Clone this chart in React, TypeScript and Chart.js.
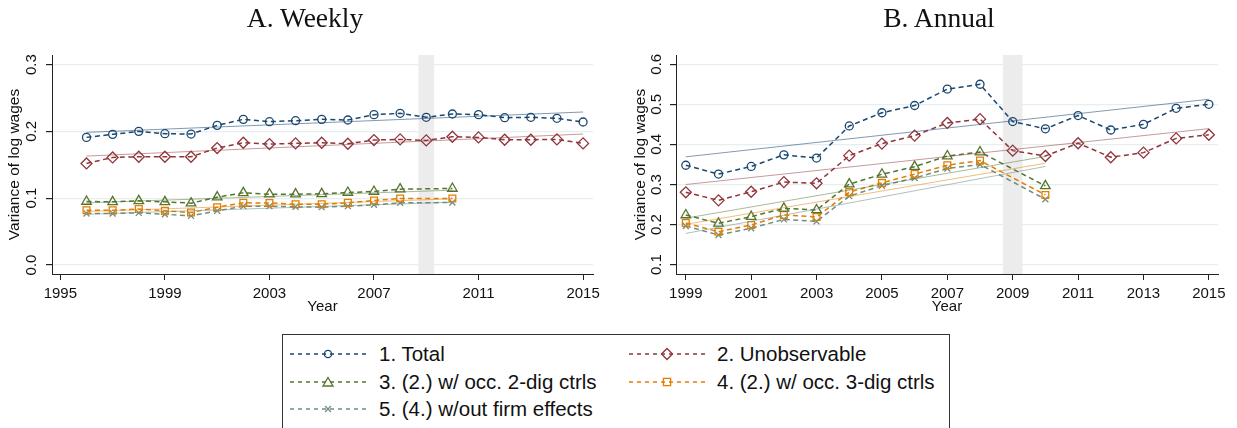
import React, { useEffect, useRef } from "react";
import { Chart, registerables } from "chart.js";

Chart.register(...registerables);

// ---------- data ----------
const weeklyYears = [1996, 1997, 1998, 1999, 2000, 2001, 2002, 2003, 2004, 2005, 2006, 2007, 2008, 2009, 2010, 2011, 2012, 2013, 2014, 2015];
const weeklyTotal = [0.191, 0.1955, 0.2, 0.1965, 0.196, 0.209, 0.218, 0.2145, 0.216, 0.218, 0.217, 0.225, 0.227, 0.221, 0.226, 0.225, 0.2205, 0.221, 0.2195, 0.214];
const weeklyUnobs = [0.152, 0.161, 0.162, 0.162, 0.162, 0.175, 0.183, 0.181, 0.182, 0.183, 0.1815, 0.187, 0.188, 0.1865, 0.192, 0.191, 0.1875, 0.1875, 0.188, 0.182];
const weeklyOcc2 = [0.095, 0.0945, 0.096, 0.0945, 0.0925, 0.1015, 0.108, 0.106, 0.106, 0.1065, 0.1085, 0.11, 0.1135, null, 0.1145, null, null, null, null, null];
const weeklyOcc3 = [0.082, 0.0818, 0.0838, 0.081, 0.0785, 0.0865, 0.093, 0.0928, 0.091, 0.091, 0.093, 0.0965, 0.0995, null, 0.0995, null, null, null, null, null];
const weeklyNoFirm = [0.077, 0.077, 0.078, 0.076, 0.0735, 0.081, 0.088, 0.088, 0.087, 0.0865, 0.088, 0.09, 0.093, null, 0.0935, null, null, null, null, null];

const weeklyTrendYearsLong = [1996, 2015];
const weeklyTrendYearsShort = [1996, 2010];
const weeklyTrendTotal = [0.1985, 0.229];
const weeklyTrendUnobs = [0.163, 0.196];
const weeklyTrendOcc2 = [0.093, 0.112];
const weeklyTrendOcc3 = [0.08, 0.099];
const weeklyTrendNoFirm = [0.076, 0.094];

const annualYears = [1999, 2000, 2001, 2002, 2003, 2004, 2005, 2006, 2007, 2008, 2009, 2010, 2011, 2012, 2013, 2014, 2015];
const annualTotal = [0.348, 0.326, 0.345, 0.374, 0.366, 0.446, 0.479, 0.497, 0.538, 0.55, 0.457, 0.439, 0.472, 0.436, 0.45, 0.49, 0.5];
const annualUnobs = [0.2805, 0.2605, 0.282, 0.306, 0.303, 0.372, 0.402, 0.422, 0.4536, 0.463, 0.3845, 0.371, 0.403, 0.368, 0.3795, 0.415, 0.424];
const annualOcc2 = [0.224, 0.203, 0.22, 0.2405, 0.2365, 0.301, 0.3255, 0.3445, 0.371, 0.381, null, 0.2965, null, null, null, null, null];
const annualOcc3 = [0.204, 0.182, 0.199, 0.224, 0.219, 0.281, 0.304, 0.326, 0.348, 0.3596, null, 0.274, null, null, null, null, null];
const annualNoFirm = [0.1965, 0.174, 0.191, 0.213, 0.208, 0.271, 0.297, 0.316, 0.34, 0.35, null, 0.263, null, null, null, null, null];

const annualTrendYearsLong = [1999, 2015];
const annualTrendYearsShort = [1999, 2010];
const annualTrendTotal = [0.369, 0.5126];
const annualTrendUnobs = [0.3, 0.4394];
const annualTrendOcc2 = [0.216, 0.37];
const annualTrendOcc3 = [0.2008, 0.353];
const annualTrendNoFirm = [0.178, 0.345];

const weeklyXTicks = [1995, 1999, 2003, 2007, 2011, 2015];
const weeklyYTicks = [0, 0.1, 0.2, 0.3];
const annualXTicks = [1999, 2001, 2003, 2005, 2007, 2009, 2011, 2013, 2015];
const annualYTicks = [0.1, 0.2, 0.3, 0.4, 0.5, 0.6];

const recessionBand = [2008.7, 2009.3];

const panelTitles = ["A. Weekly", "B. Annual"];
const seriesLabels = [
  "1. Total",
  "2. Unobservable",
  "3. (2.) w/ occ. 2-dig ctrls",
  "4. (2.) w/ occ. 3-dig ctrls",
  "5. (4.) w/out firm effects",
];

// ---------- styles ----------
const COLORS = ["#1a476f", "#90353b", "#55752f", "#e37e00", "#6e8e84"];
const TREND_COLORS = [
  "rgba(26,71,111,0.55)",
  "rgba(144,53,59,0.5)",
  "rgba(85,117,47,0.5)",
  "rgba(227,126,0,0.5)",
  "rgba(110,142,132,0.55)",
];
const POINT_STYLES = ["circle", "rectRot", "triangle", "rect", "crossRot"];
const POINT_RADII = [4, 5.5, 5.5, 4.8, 4.2];
const SANS = '"Liberation Sans", Arial, Helvetica, sans-serif';
const SERIF = '"Liberation Serif", "Times New Roman", serif';
const INK = "#111111";
const AXIS = "#222222";
const GRID = "#e6eef0";
const BAND = "#ececec";

const toPoints = (xs: number[], ys: (number | null)[]) => xs.map((x, i) => ({ x, y: ys[i] }));

const bandPlugin = {
  id: "band",
  beforeDatasetsDraw(chart: any, _args: any, opts: any) {
    const { ctx, chartArea, scales } = chart;
    const x0 = scales.x.getPixelForValue(opts.from);
    const x1 = scales.x.getPixelForValue(opts.to);
    ctx.save();
    ctx.fillStyle = opts.color;
    ctx.fillRect(x0, chartArea.top, x1 - x0, chartArea.bottom - chartArea.top);
    ctx.restore();
  },
};

function makeConfig(p: any) {
  const datasets: any[] = [];
  p.trends.forEach((t: any, i: number) => {
    datasets.push({
      data: toPoints(t.years, t.values),
      borderColor: TREND_COLORS[i],
      borderWidth: 1,
      pointRadius: 0,
      fill: false,
      tension: 0,
    });
  });
  p.series.forEach((s: (number | null)[], i: number) => {
    datasets.push({
      data: toPoints(p.years, s),
      borderColor: COLORS[i],
      borderWidth: 1.5,
      borderDash: [5, 3.5],
      pointStyle: POINT_STYLES[i],
      pointRadius: POINT_RADII[i],
      pointBorderWidth: 1.3,
      pointBorderColor: COLORS[i],
      pointBackgroundColor: "rgba(0,0,0,0)",
      spanGaps: true,
      fill: false,
      tension: 0,
    });
  });
  return {
    type: "line",
    data: { datasets },
    plugins: [bandPlugin],
    options: {
      animation: false,
      responsive: false,
      devicePixelRatio: 1,
      layout: { padding: { left: 0, right: p.padRight, top: 55, bottom: 0 } },
      plugins: {
        legend: { display: false },
        tooltip: { enabled: false },
        title: { display: false },
        band: { from: recessionBand[0], to: recessionBand[1], color: BAND },
      },
      scales: {
        x: {
          type: "linear",
          min: p.xMin,
          max: p.xMax,
          afterBuildTicks: (axis: any) => {
            axis.ticks = p.xTicks.map((v: number) => ({ value: v }));
          },
          afterFit: (s: any) => {
            s.height = 51;
          },
          ticks: {
            color: INK,
            font: { family: SANS, size: 15 },
            padding: 5,
            maxRotation: 0,
            autoSkip: false,
            callback: (v: any) => String(v),
          },
          grid: {
            drawOnChartArea: false,
            drawTicks: true,
            tickLength: 6,
            tickColor: AXIS,
          },
          border: { display: true, color: AXIS, width: 1 },
          title: {
            display: true,
            text: "Year",
            color: INK,
            font: { family: SANS, size: 15 },
            padding: { top: 0, bottom: 9 },
          },
        },
        y: {
          type: "linear",
          min: p.yMin,
          max: p.yMax,
          afterBuildTicks: (axis: any) => {
            axis.ticks = p.yTicks.map((v: number) => ({ value: v }));
          },
          afterFit: (s: any) => {
            s.width = p.yWidth;
          },
          ticks: {
            color: INK,
            font: { family: SANS, size: 15 },
            padding: p.yTickPad,
            minRotation: 90,
            maxRotation: 90,
            crossAlign: "center",
            autoSkip: false,
            callback: (v: any) => Number(v).toFixed(1),
          },
          grid: {
            color: GRID,
            lineWidth: 1.2,
            drawTicks: true,
            tickLength: 6,
            tickColor: AXIS,
          },
          border: { display: true, color: AXIS, width: 1 },
          title: {
            display: true,
            text: "Variance of log wages",
            color: INK,
            font: { family: SANS, size: 15.5 },
            padding: { top: p.yTitlePad, bottom: 0 },
          },
        },
      },
    },
  };
}

const weeklyConfig = () =>
  makeConfig({
    years: weeklyYears,
    series: [weeklyTotal, weeklyUnobs, weeklyOcc2, weeklyOcc3, weeklyNoFirm],
    trends: [
      { years: weeklyTrendYearsLong, values: weeklyTrendTotal },
      { years: weeklyTrendYearsLong, values: weeklyTrendUnobs },
      { years: weeklyTrendYearsShort, values: weeklyTrendOcc2 },
      { years: weeklyTrendYearsShort, values: weeklyTrendOcc3 },
      { years: weeklyTrendYearsShort, values: weeklyTrendNoFirm },
    ],
    xMin: 1994.68,
    xMax: 2015.38,
    yMin: -0.0135,
    yMax: 0.3143,
    xTicks: weeklyXTicks,
    yTicks: weeklyYTicks,
    yWidth: 52,
    yTickPad: 4,
    yTitlePad: 5.7,
    padRight: 17,
  });

const annualConfig = () =>
  makeConfig({
    years: annualYears,
    series: [annualTotal, annualUnobs, annualOcc2, annualOcc3, annualNoFirm],
    trends: [
      { years: annualTrendYearsLong, values: annualTrendTotal },
      { years: annualTrendYearsLong, values: annualTrendUnobs },
      { years: annualTrendYearsShort, values: annualTrendOcc2 },
      { years: annualTrendYearsShort, values: annualTrendOcc3 },
      { years: annualTrendYearsShort, values: annualTrendNoFirm },
    ],
    xMin: 1998.7,
    xMax: 2015.28,
    yMin: 0.0768,
    yMax: 0.623,
    xTicks: annualXTicks,
    yTicks: annualYTicks,
    yWidth: 46,
    yTickPad: 3,
    yTitlePad: 1.7,
    padRight: 30,
  });

function ChartPanel({ makeCfg, left, width, height }: any) {
  const ref = useRef<HTMLCanvasElement>(null);
  useEffect(() => {
    const chart = new Chart(ref.current as HTMLCanvasElement, makeCfg() as any);
    return () => chart.destroy();
  }, []);
  return (
    <canvas
      ref={ref}
      width={width}
      height={height}
      style={{ position: "absolute", left, top: 0, width, height }}
    />
  );
}

function PanelTitle({ text, center }: { text: string; center: number }) {
  return (
    <div
      style={{
        position: "absolute",
        left: center - 150,
        width: 300,
        top: 2,
        height: 32,
        lineHeight: "32px",
        textAlign: "center",
        fontFamily: SERIF,
        fontSize: 27.5,
        color: INK,
        whiteSpace: "nowrap",
      }}
    >
      {text}
    </div>
  );
}

function LegendMarker({ i, cx, cy }: { i: number; cx: number; cy: number }) {
  const c = COLORS[i];
  const sw = 1.3;
  if (i === 0) return <circle cx={cx} cy={cy} r={3.6} fill="none" stroke={c} strokeWidth={sw} />;
  if (i === 1)
    return (
      <polygon
        points={`${cx - 5.5},${cy} ${cx},${cy - 5.5} ${cx + 5.5},${cy} ${cx},${cy + 5.5}`}
        fill="none"
        stroke={c}
        strokeWidth={sw}
      />
    );
  if (i === 2)
    return (
      <polygon
        points={`${cx - 5},${cy + 4} ${cx + 5},${cy + 4} ${cx},${cy - 4.5}`}
        fill="none"
        stroke={c}
        strokeWidth={sw}
      />
    );
  if (i === 3)
    return <rect x={cx - 3.6} y={cy - 3.6} width={7.2} height={7.2} fill="none" stroke={c} strokeWidth={sw} />;
  return (
    <g stroke={c} strokeWidth={sw}>
      <line x1={cx - 3} y1={cy - 3} x2={cx + 3} y2={cy + 3} />
      <line x1={cx - 3} y1={cy + 3} x2={cx + 3} y2={cy - 3} />
    </g>
  );
}

function LegendItem({ i, lineLeft, textLeft, cy }: any) {
  const w = 76;
  return (
    <>
      <svg
        width={w}
        height={20}
        style={{ position: "absolute", left: lineLeft, top: cy - 10, overflow: "visible" }}
      >
        <line x1={0} y1={10} x2={w} y2={10} stroke={COLORS[i]} strokeWidth={1.3} strokeDasharray="4 4" />
        <LegendMarker i={i} cx={w / 2} cy={10} />
      </svg>
      <div
        style={{
          position: "absolute",
          left: textLeft,
          top: cy - 12,
          height: 24,
          lineHeight: "24px",
          fontFamily: SANS,
          fontSize: 20.5,
          color: INK,
          whiteSpace: "nowrap",
        }}
      >
        {seriesLabels[i]}
      </div>
    </>
  );
}

export default function App() {
  useEffect(() => {
    document.body.style.margin = "0";
  }, []);
  const rows = [354, 381.5, 409];
  const legendBoxLeft = 282;
  return (
    <div
      style={{
        position: "relative",
        width: 1237,
        height: 428,
        overflow: "hidden",
        background: "#ffffff",
      }}
    >
      <ChartPanel makeCfg={weeklyConfig} left={0} width={610} height={325} />
      <ChartPanel makeCfg={annualConfig} left={630} width={618} height={325} />
      <PanelTitle text={panelTitles[0]} center={305} />
      <PanelTitle text={panelTitles[1]} center={939} />
      <div
        style={{
          position: "absolute",
          left: legendBoxLeft,
          top: 334,
          width: 950 - legendBoxLeft,
          height: 130,
          border: "1px solid #333",
          boxSizing: "border-box",
        }}
      />
      <LegendItem i={0} lineLeft={290} textLeft={379} cy={rows[0]} />
      <LegendItem i={1} lineLeft={629} textLeft={717} cy={rows[0]} />
      <LegendItem i={2} lineLeft={290} textLeft={379} cy={rows[1]} />
      <LegendItem i={3} lineLeft={629} textLeft={717} cy={rows[1]} />
      <LegendItem i={4} lineLeft={290} textLeft={379} cy={rows[2]} />
    </div>
  );
}
